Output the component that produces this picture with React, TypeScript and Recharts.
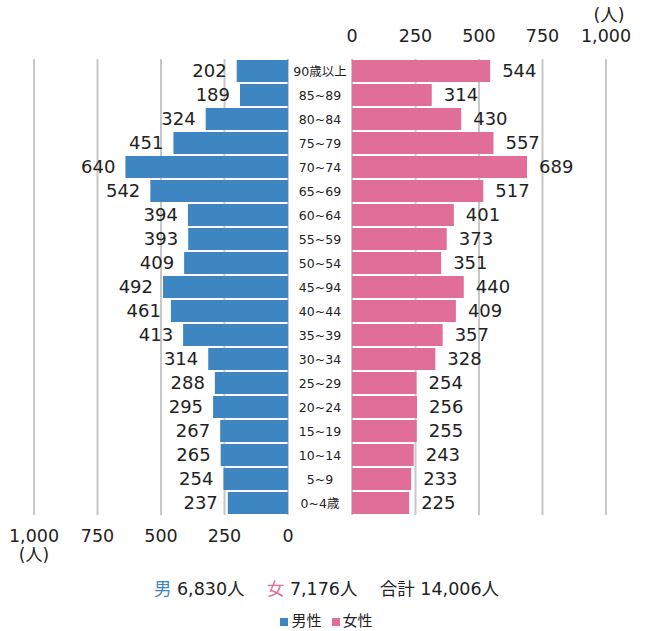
import React from "react";
import { BarChart, Bar, XAxis, YAxis, CartesianGrid, LabelList } from "recharts";

const ages = [
  "90歳以上", "85~89", "80~84", "75~79", "70~74", "65~69", "60~64", "55~59", "50~54", "45~94",
  "40~44", "35~39", "30~34", "25~29", "20~24", "15~19", "10~14", "5~9", "0~4歳",
];
const male = [202, 189, 324, 451, 640, 542, 394, 393, 409, 492, 461, 413, 314, 288, 295, 267, 265, 254, 237];
const female = [544, 314, 430, 557, 689, 517, 401, 373, 351, 440, 409, 357, 328, 254, 256, 255, 243, 233, 225];
const ticks = [0, 250, 500, 750, 1000];

const FONT = '"DejaVu Sans", "Noto Sans CJK JP", sans-serif';
const BLUE = "#3e86c1";
const PINK = "#e06e97";
const TEXT = "#222";

const data = ages.map((age, i) => ({ age, male: male[i], female: female[i] }));
const fmt = (v: number) => v.toLocaleString("en-US");

const BottomTick = (props: any) => {
  const { x, y, payload } = props;
  return (
    <g>
      <text x={x} y={y} dy={19} textAnchor="middle" fontSize={17.5} fill={TEXT} fontFamily={FONT}>
        {fmt(payload.value)}
      </text>
      {payload.value === 1000 && (
        <text x={x} y={y} dy={38} textAnchor="middle" fontSize={17} fill={TEXT} fontFamily={FONT}>
          (人)
        </text>
      )}
    </g>
  );
};

const TopTick = (props: any) => {
  const { x, y, payload } = props;
  return (
    <g>
      <text x={x} y={y} textAnchor="middle" fontSize={17.5} fill={TEXT} fontFamily={FONT}>
        {fmt(payload.value)}
      </text>
      {payload.value === 1000 && (
        <text x={x + 3} y={y - 21} textAnchor="middle" fontSize={17.5} fill={TEXT} fontFamily={FONT}>
          (人)
        </text>
      )}
    </g>
  );
};

const AgeTick = (props: any) => {
  const { y, payload } = props;
  return (
    <text x={320} y={y} dy="0.36em" textAnchor="middle" fontSize={12.5} fill={TEXT} fontFamily={FONT}>
      {payload.value}
    </text>
  );
};

// label drawn left of the bar's outer end (the axis is reversed)
const MaleLabel = (props: any) => {
  const { x, y, width, height, value } = props;
  const left = Math.min(x, x + width);
  return (
    <text x={left - 10} y={y + height / 2} dy="0.36em" textAnchor="end" fontSize={18} fill={TEXT} fontFamily={FONT}>
      {value}
    </text>
  );
};

export default function App() {
  return (
    <div style={{ position: "absolute", left: 0, top: 0, width: 653, height: 631, background: "#fff", fontFamily: FONT }}>
      <div style={{ position: "absolute", left: 0, top: 0 }}>
        <BarChart
          width={352}
          height={570}
          data={data}
          layout="vertical"
          margin={{ top: 59, right: 0, left: 34, bottom: 15 }}
          barSize={22}
        >
          <CartesianGrid horizontal={false} stroke="#c8c8c8" strokeWidth={2} />
          <XAxis
            type="number"
            domain={[0, 1000]}
            ticks={ticks}
            reversed
            axisLine={false}
            tickLine={false}
            height={40}
            tick={<BottomTick />}
            interval={0}
          />
          <YAxis
            type="category"
            dataKey="age"
            orientation="right"
            width={64}
            axisLine={false}
            tickLine={false}
            tick={<AgeTick />}
            interval={0}
          />
          <Bar dataKey="male" fill={BLUE} isAnimationActive={false}>
            <LabelList dataKey="male" content={<MaleLabel />} />
          </Bar>
        </BarChart>
      </div>
      <div style={{ position: "absolute", left: 330, top: 0 }}>
        <BarChart
          width={323}
          height={560}
          data={data}
          layout="vertical"
          margin={{ top: 19, right: 47, left: 22, bottom: 45 }}
          barSize={22}
        >
          <CartesianGrid horizontal={false} stroke="#c8c8c8" strokeWidth={2} />
          <XAxis
            type="number"
            domain={[0, 1000]}
            ticks={ticks}
            orientation="top"
            axisLine={false}
            tickLine={false}
            height={40}
            tickMargin={11}
            tick={<TopTick />}
            interval={0}
          />
          <YAxis type="category" dataKey="age" hide />
          <Bar dataKey="female" fill={PINK} isAnimationActive={false}>
            <LabelList dataKey="female" position="right" offset={12} fontSize={18} fill={TEXT} fontFamily={FONT} />
          </Bar>
        </BarChart>
      </div>
      <div
        style={{
          position: "absolute",
          left: 0,
          width: 653,
          top: 578,
          textAlign: "center",
          fontSize: 17.5,
          lineHeight: "22px",
          color: TEXT,
          whiteSpace: "pre",
        }}
      >
        <span style={{ color: BLUE }}>男</span> 6,830人{"    "}
        <span style={{ color: PINK }}>女</span> 7,176人{"    "}合計 14,006人
      </div>
      <div
        style={{
          position: "absolute",
          left: 0,
          width: 653,
          top: 613,
          display: "flex",
          justifyContent: "center",
          alignItems: "center",
          fontSize: 15,
          lineHeight: "17px",
          color: TEXT,
        }}
      >
        <span style={{ display: "inline-block", width: 8, height: 8, background: BLUE, marginRight: 3 }} />
        <span style={{ marginRight: 10 }}>男性</span>
        <span style={{ display: "inline-block", width: 8, height: 8, background: PINK, marginRight: 3 }} />
        <span>女性</span>
      </div>
    </div>
  );
}
